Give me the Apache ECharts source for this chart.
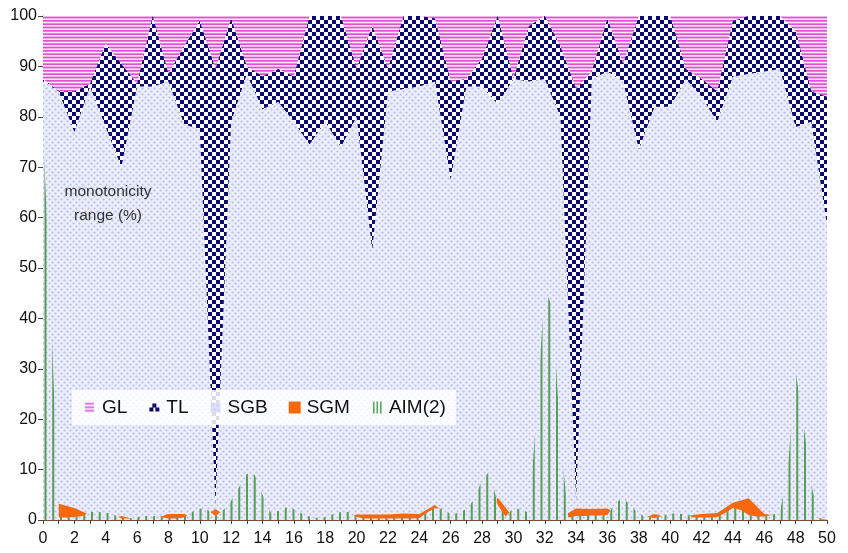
<!DOCTYPE html>
<html>
<head>
<meta charset="utf-8">
<script src="https://cdn.jsdelivr.net/npm/echarts@6/dist/echarts.min.js"></script>
<style>
html,body{margin:0;padding:0;background:#fff;}
#c{width:848px;height:553px;}
</style>
</head>
<body>
<div id="c"></div>
<script>
// x positions (integer steps) for the stacked bands and SGM
const xInt = [0,1,2,3,4,5,6,7,8,9,10,11,12,13,14,15,16,17,18,19,20,21,22,23,24,25,26,27,28,29,30,31,32,33,34,35,36,37,38,39,40,41,42,43,44,45,46,47,48,49,50];
// SGB band (bottom of stack)
const sgb = [87,85,77,86,78,70,86,86,87,78.5,77.5,3,79,88.5,81.5,83,79,74.5,79,74,80,53.5,85,85.5,86,87,67.5,86,86,82.5,87.5,87,87.5,80,4,87.5,89,87,73.5,82,82,87.5,84,79,88,88.5,89,89.5,78,79,58.5];
// TL band (middle of stack)
const tl = [0.5,0,8,0.5,16.5,20.5,0.5,14,1.5,15.5,21.5,86.5,20.5,1.5,6.5,6.5,9,25.5,21,26,9.5,44.5,4.5,14.5,14,12.5,19.5,1.5,5.5,17.5,0,11,12.5,14,81.5,1.5,10.5,3.5,26.5,18,18,2,3.5,6,11,11.5,11,10.5,19,6,25.5];
// GL band (top of stack)
const gl = [12.5,15,15,13.5,5.5,9.5,13.5,0,11.5,6,1,10.5,0.5,10,12,10.5,12,0,0,0,10.5,2,10.5,0,0,0.5,13,12.5,8.5,0,12.5,2,0,6,14.5,11,0.5,9.5,0,0,0,10.5,12.5,15,1,0,0,0,3,15,16];
// SGM
const sgm = [null,3.2,2.4,1.0,0,0.8,0,0.2,1.2,1.2,0,2.2,0,0,0,0,0,0,0,0.3,1.1,1.1,1.1,1.3,1.2,3.0,0.4,0,0,4.4,0.5,0,0,0.5,2.3,2.2,2.3,0,0,1.2,0.3,0.8,1.2,1.4,3.4,4.3,1.2,0.8,0,0.8,0];
// AIM(2) at half steps: x = 0, 0.5, 1, ... 50
const aimX = [0,0.5,1,1.5,2,2.5,3,3.5,4,4.5,5,5.5,6,6.5,7,7.5,8,8.5,9,9.5,10,10.5,11,11.5,12,12.5,13,13.5,14,14.5,15,15.5,16,16.5,17,17.5,18,18.5,19,19.5,20,20.5,21,21.5,22,22.5,23,23.5,24,24.5,25,25.5,26,26.5,27,27.5,28,28.5,29,29.5,30,30.5,31,31.5,32,32.5,33,33.5,34,34.5,35,35.5,36,36.5,37,37.5,38,38.5,39,39.5,40,40.5,41,41.5,42,42.5,43,43.5,44,44.5,45,45.5,46,46.5,47,47.5,48,48.5,49,49.5,50];
const aim = [77,42,0.5,0.5,0.6,0.8,1.6,1.6,1.5,1.1,0.3,0.3,0.6,0.8,0.8,0.6,0.3,0.3,0.5,1.6,2.3,2.0,0.8,2.0,3.8,6.5,9.2,9.0,5.0,1.5,1.8,2.5,2.2,1.3,0.7,0.4,0.6,1.2,1.6,1.6,0.6,0.3,0.3,0.3,0.3,0.3,0.3,0.3,0.4,1.5,2.4,2.2,1.2,1.4,2.2,4.0,8.0,9.7,3.0,0.7,2.4,2.1,1.4,22,46,42,16,0.5,0.8,0.8,0.9,0.9,1.0,3.4,4.3,2.8,1.2,0.6,0.4,0.8,1.3,1.3,1.1,0.5,0.5,0.5,0.6,1.4,2.4,2.0,1.0,0.7,0.7,1.0,1.5,10,29.5,19,7,0.3,0.3];
const yTicks = [0,10,20,30,40,50,60,70,80,90,100];

// cumulative tops of the stacked bands (each area is drawn from the axis up to its top)
const sgbTop = sgb.map((v,i)=>v);
const tlTop = sgb.map((v,i)=>v+tl[i]);
const glTop = sgb.map((v,i)=>v+tl[i]+gl[i]);

function mk(w,h,draw){const c=document.createElement('canvas');c.width=w;c.height=h;draw(c.getContext('2d'));return c;}
function sgbTile(ctx,ox,oy){
  ctx.fillStyle='#ebedfb';ctx.fillRect(ox,oy,6,6);
  ctx.fillStyle='#b7bbe7';
  ctx.beginPath();ctx.arc(ox+1.5,oy+1.5,1.05,0,Math.PI*2);ctx.fill();
  ctx.beginPath();ctx.arc(ox+4.5,oy+4.5,1.05,0,Math.PI*2);ctx.fill();
}
const sgbCanvas = mk(6,6,ctx=>sgbTile(ctx,0,0));
const tlCanvas = mk(8,8,ctx=>{ctx.fillStyle='#ffffff';ctx.fillRect(0,0,8,8);ctx.fillStyle='#0a0a70';ctx.fillRect(0,0,4,4);ctx.fillRect(4,4,4,4);});
const glCanvas = mk(4,10,ctx=>{ctx.fillStyle='#fde6fa';ctx.fillRect(0,0,4,10);ctx.fillStyle='#e24fd7';[0,3.333,6.667].forEach(y=>ctx.fillRect(0,y,4,1.7));});
const aimCanvas = mk(186,6,ctx=>{for(let i=0;i<31;i++)sgbTile(ctx,i*6,0);ctx.fillStyle='#55a055';for(let k=0;k<24;k++){ctx.fillRect(k*7.75+5.75,0,2,6);}});

const glIcon = mk(14,14,ctx=>{ctx.fillStyle='#e24fd7';[2.5,6,9.5].forEach(y=>ctx.fillRect(2,y,9,1.6));});
const tlIcon = mk(14,14,ctx=>{ctx.fillStyle='#0a0a70';ctx.fillRect(5,3,4,4);ctx.fillRect(2,7,4,4);ctx.fillRect(8,7,4,4);ctx.fillStyle='#fff';ctx.fillRect(6,8,2,2);});
const sgbIcon = mk(14,14,ctx=>{ctx.fillStyle='#dcdff5';ctx.fillRect(2,2,10,10);ctx.fillStyle='#c4c7ec';[[4,4],[9,5],[6,9],[10,10]].forEach(p=>{ctx.beginPath();ctx.arc(p[0],p[1],1,0,7);ctx.fill();});});
const sgmIcon = mk(14,14,ctx=>{ctx.fillStyle='#f6680e';ctx.fillRect(1,1,12,12);});
const aimIcon = mk(14,14,ctx=>{ctx.fillStyle='#5aa55a';[3,6.5,10].forEach(x=>ctx.fillRect(x,1,1.6,12));});

const pairs = (xs, ys) => xs.map((x,i)=>[x, ys[i]]);
const FONT = "'Liberation Sans', Arial, Helvetica, sans-serif";
const base = {type:'line', symbol:'none', showSymbol:false, lineStyle:{width:0}, silent:true, animation:false};

const chart = echarts.init(document.getElementById('c'), null, {renderer:'canvas'});
chart.setOption({
  animation:false,
  backgroundColor:'#ffffff',
  grid:{left:43,right:21,top:16,bottom:33,containLabel:false},
  legend:{
    left:72, top:390, orient:'horizontal',
    padding:[8,10,8,11], itemGap:20, itemWidth:14, itemHeight:14,
    backgroundColor:'rgba(255,255,255,0.85)',
    selectedMode:false,
    textStyle:{fontFamily:FONT,fontSize:19,color:'#111'},
    data:[
      {name:'GL',icon:'image://'+glIcon.toDataURL()},
      {name:'TL',icon:'image://'+tlIcon.toDataURL()},
      {name:'SGB',icon:'image://'+sgbIcon.toDataURL()},
      {name:'SGM',icon:'image://'+sgmIcon.toDataURL()},
      {name:'AIM(2)',icon:'image://'+aimIcon.toDataURL()}
    ]
  },
  xAxis:{
    type:'value', min:0, max:50, interval:1,
    axisLine:{show:true,lineStyle:{color:'#7a5030',width:1}},
    axisTick:{show:true,length:4,lineStyle:{color:'#444'}},
    splitLine:{show:false},
    axisLabel:{margin:11,fontFamily:FONT,fontSize:16,color:'#111',
      formatter:v=> (v%2===0? String(v):'')}
  },
  yAxis:{
    type:'value', min:0, max:100, interval:10,
    axisLine:{show:true,lineStyle:{color:'#666',width:1}},
    axisTick:{show:true,length:5,lineStyle:{color:'#444'}},
    splitLine:{show:false},
    axisLabel:{margin:6,fontFamily:FONT,fontSize:16,color:'#111',
      formatter:v=> (yTicks.indexOf(v)>=0? String(v):'')}
  },
  graphic:[{
    type:'text', x:108, y:180, z:100,
    style:{text:'monotonicity\nrange (%)', fontFamily:FONT, fontSize:15.5, lineHeight:24, fill:'#333', align:'center', verticalAlign:'top'}
  }],
  series:[
    Object.assign({}, base, {name:'GL', data:pairs(xInt,glTop), areaStyle:{color:{image:glCanvas,repeat:'repeat'},opacity:1}, z:2}),
    Object.assign({}, base, {name:'TL', data:pairs(xInt,tlTop), areaStyle:{color:{image:tlCanvas,repeat:'repeat'},opacity:1}, z:2}),
    Object.assign({}, base, {name:'SGB', data:pairs(xInt,sgbTop), areaStyle:{color:{image:sgbCanvas,repeat:'repeat'},opacity:1}, z:2}),
    Object.assign({}, base, {name:'SGM', data:pairs(xInt,sgm), areaStyle:{color:'#f6680e',opacity:1}, z:3}),
    Object.assign({}, base, {name:'AIM(2)', data:pairs(aimX,aim), areaStyle:{color:{image:aimCanvas,repeat:'repeat'},opacity:1}, z:4})
  ]
});
</script>
</body>
</html>
